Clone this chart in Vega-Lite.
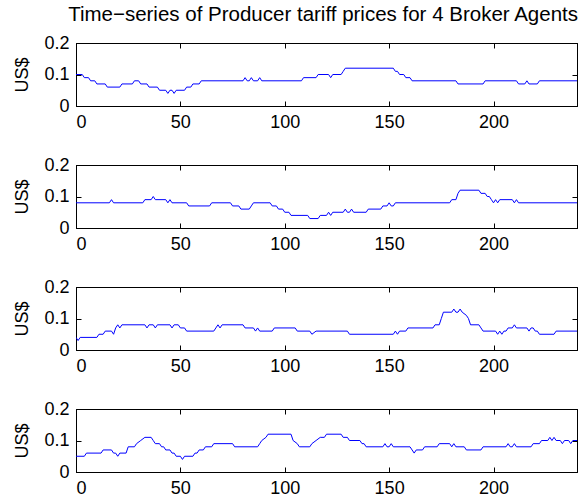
{
  "$schema": "https://vega.github.io/schema/vega-lite/v6.json",
  "padding": {"left": 13, "top": 5, "right": 1, "bottom": 0},
  "title": {"text": "Time−series of Producer tariff prices for 4 Broker Agents", "fontSize": 20.5, "fontWeight": "normal", "font": "Liberation Sans", "color": "black", "anchor": "end", "offset": 8},
  "config": {
    "font": "Liberation Sans",
    "view": {"stroke": "black", "strokeWidth": 1},
    "axis": {"grid": false, "domainColor": "black", "tickColor": "black", "labelColor": "black", "labelFontSize": 18, "titleFontSize": 18, "titleFontWeight": "normal", "titleColor": "black", "tickSize": -5, "labelPadding": 12, "titlePadding": 12, "labelFont": "Liberation Sans", "titleFont": "Liberation Sans"},
    "concat": {"spacing": 23}
  },
  "datasets": {
    "s1": [
      {"t":0,"v":0.10},{"t":3,"v":0.10},{"t":4,"v":0.09},{"t":6,"v":0.09},{"t":7,"v":0.08},{"t":9,"v":0.08},{"t":10,"v":0.07},{"t":14,"v":0.07},{"t":15,"v":0.06},{"t":21,"v":0.06},{"t":22,"v":0.07},{"t":27,"v":0.07},{"t":28,"v":0.08},{"t":30,"v":0.08},{"t":31,"v":0.07},{"t":34,"v":0.07},{"t":35,"v":0.06},{"t":39,"v":0.06},{"t":40,"v":0.05},{"t":43,"v":0.05},{"t":44,"v":0.04},{"t":45,"v":0.05},{"t":46,"v":0.05},{"t":47,"v":0.04},{"t":48,"v":0.05},{"t":52,"v":0.05},{"t":53,"v":0.06},{"t":55,"v":0.06},{"t":56,"v":0.07},{"t":59,"v":0.07},{"t":60,"v":0.08},{"t":80,"v":0.08},{"t":81,"v":0.09},{"t":82,"v":0.08},{"t":83,"v":0.08},{"t":84,"v":0.09},{"t":85,"v":0.08},{"t":87,"v":0.08},{"t":88,"v":0.09},{"t":89,"v":0.08},{"t":108,"v":0.08},{"t":109,"v":0.09},{"t":115,"v":0.09},{"t":116,"v":0.10},{"t":121,"v":0.10},{"t":122,"v":0.09},{"t":123,"v":0.10},{"t":127,"v":0.10},{"t":128,"v":0.11},{"t":129,"v":0.12},{"t":152,"v":0.12},{"t":153,"v":0.11},{"t":154,"v":0.11},{"t":155,"v":0.10},{"t":157,"v":0.10},{"t":158,"v":0.09},{"t":160,"v":0.09},{"t":161,"v":0.08},{"t":182,"v":0.08},{"t":183,"v":0.07},{"t":195,"v":0.07},{"t":196,"v":0.08},{"t":211,"v":0.08},{"t":212,"v":0.07},{"t":215,"v":0.07},{"t":216,"v":0.08},{"t":217,"v":0.07},{"t":221,"v":0.07},{"t":222,"v":0.08},{"t":240,"v":0.08}
    ],
    "s2": [
      {"t":0,"v":0.08},{"t":16,"v":0.08},{"t":17,"v":0.09},{"t":18,"v":0.08},{"t":32,"v":0.08},{"t":33,"v":0.09},{"t":36,"v":0.09},{"t":37,"v":0.10},{"t":38,"v":0.09},{"t":43,"v":0.09},{"t":44,"v":0.08},{"t":45,"v":0.09},{"t":46,"v":0.08},{"t":53,"v":0.08},{"t":54,"v":0.07},{"t":64,"v":0.07},{"t":65,"v":0.08},{"t":74,"v":0.08},{"t":75,"v":0.07},{"t":78,"v":0.07},{"t":79,"v":0.06},{"t":83,"v":0.06},{"t":84,"v":0.07},{"t":85,"v":0.08},{"t":93,"v":0.08},{"t":94,"v":0.07},{"t":96,"v":0.07},{"t":97,"v":0.06},{"t":99,"v":0.06},{"t":100,"v":0.05},{"t":102,"v":0.05},{"t":103,"v":0.04},{"t":111,"v":0.04},{"t":112,"v":0.03},{"t":116,"v":0.03},{"t":117,"v":0.04},{"t":120,"v":0.04},{"t":121,"v":0.05},{"t":122,"v":0.04},{"t":123,"v":0.05},{"t":128,"v":0.05},{"t":129,"v":0.06},{"t":130,"v":0.05},{"t":131,"v":0.05},{"t":132,"v":0.06},{"t":133,"v":0.05},{"t":139,"v":0.05},{"t":140,"v":0.06},{"t":146,"v":0.06},{"t":147,"v":0.07},{"t":149,"v":0.07},{"t":150,"v":0.08},{"t":151,"v":0.07},{"t":152,"v":0.07},{"t":153,"v":0.08},{"t":179,"v":0.08},{"t":180,"v":0.09},{"t":182,"v":0.09},{"t":183,"v":0.11},{"t":184,"v":0.12},{"t":193,"v":0.12},{"t":194,"v":0.11},{"t":196,"v":0.11},{"t":197,"v":0.10},{"t":198,"v":0.10},{"t":199,"v":0.09},{"t":200,"v":0.08},{"t":201,"v":0.09},{"t":202,"v":0.08},{"t":203,"v":0.09},{"t":209,"v":0.09},{"t":210,"v":0.08},{"t":211,"v":0.09},{"t":212,"v":0.08},{"t":240,"v":0.08}
    ],
    "s3": [
      {"t":0,"v":0.04},{"t":1,"v":0.03},{"t":2,"v":0.04},{"t":10,"v":0.04},{"t":11,"v":0.05},{"t":13,"v":0.05},{"t":14,"v":0.06},{"t":17,"v":0.06},{"t":18,"v":0.05},{"t":19,"v":0.07},{"t":20,"v":0.08},{"t":21,"v":0.07},{"t":22,"v":0.08},{"t":33,"v":0.08},{"t":34,"v":0.07},{"t":35,"v":0.08},{"t":37,"v":0.08},{"t":38,"v":0.07},{"t":39,"v":0.08},{"t":45,"v":0.08},{"t":46,"v":0.07},{"t":47,"v":0.08},{"t":49,"v":0.08},{"t":50,"v":0.07},{"t":52,"v":0.07},{"t":53,"v":0.06},{"t":66,"v":0.06},{"t":67,"v":0.07},{"t":68,"v":0.08},{"t":69,"v":0.07},{"t":70,"v":0.08},{"t":80,"v":0.08},{"t":81,"v":0.07},{"t":85,"v":0.07},{"t":86,"v":0.06},{"t":87,"v":0.07},{"t":88,"v":0.06},{"t":94,"v":0.06},{"t":95,"v":0.07},{"t":105,"v":0.07},{"t":106,"v":0.06},{"t":112,"v":0.06},{"t":113,"v":0.05},{"t":115,"v":0.06},{"t":130,"v":0.06},{"t":131,"v":0.05},{"t":152,"v":0.05},{"t":153,"v":0.06},{"t":154,"v":0.05},{"t":155,"v":0.06},{"t":158,"v":0.06},{"t":159,"v":0.07},{"t":171,"v":0.07},{"t":172,"v":0.08},{"t":174,"v":0.08},{"t":175,"v":0.10},{"t":176,"v":0.12},{"t":180,"v":0.12},{"t":181,"v":0.13},{"t":182,"v":0.12},{"t":183,"v":0.12},{"t":184,"v":0.13},{"t":185,"v":0.12},{"t":187,"v":0.11},{"t":188,"v":0.10},{"t":189,"v":0.08},{"t":193,"v":0.08},{"t":194,"v":0.07},{"t":195,"v":0.06},{"t":201,"v":0.06},{"t":202,"v":0.05},{"t":203,"v":0.06},{"t":204,"v":0.05},{"t":205,"v":0.06},{"t":206,"v":0.06},{"t":207,"v":0.07},{"t":209,"v":0.07},{"t":210,"v":0.08},{"t":211,"v":0.07},{"t":216,"v":0.07},{"t":217,"v":0.06},{"t":218,"v":0.07},{"t":219,"v":0.07},{"t":220,"v":0.06},{"t":221,"v":0.06},{"t":222,"v":0.05},{"t":229,"v":0.05},{"t":230,"v":0.06},{"t":240,"v":0.06}
    ],
    "s4": [
      {"t":0,"v":0.05},{"t":4,"v":0.05},{"t":5,"v":0.06},{"t":12,"v":0.06},{"t":13,"v":0.07},{"t":17,"v":0.07},{"t":18,"v":0.06},{"t":19,"v":0.06},{"t":20,"v":0.05},{"t":21,"v":0.06},{"t":24,"v":0.06},{"t":25,"v":0.08},{"t":28,"v":0.08},{"t":29,"v":0.09},{"t":31,"v":0.10},{"t":33,"v":0.11},{"t":36,"v":0.11},{"t":37,"v":0.10},{"t":38,"v":0.09},{"t":40,"v":0.09},{"t":41,"v":0.08},{"t":42,"v":0.08},{"t":43,"v":0.07},{"t":45,"v":0.07},{"t":46,"v":0.06},{"t":47,"v":0.06},{"t":48,"v":0.05},{"t":50,"v":0.05},{"t":51,"v":0.04},{"t":52,"v":0.05},{"t":56,"v":0.05},{"t":57,"v":0.06},{"t":58,"v":0.06},{"t":59,"v":0.07},{"t":61,"v":0.07},{"t":62,"v":0.08},{"t":65,"v":0.08},{"t":66,"v":0.09},{"t":75,"v":0.09},{"t":76,"v":0.08},{"t":87,"v":0.08},{"t":88,"v":0.09},{"t":89,"v":0.10},{"t":91,"v":0.11},{"t":92,"v":0.12},{"t":103,"v":0.12},{"t":104,"v":0.10},{"t":106,"v":0.09},{"t":107,"v":0.08},{"t":112,"v":0.08},{"t":113,"v":0.09},{"t":115,"v":0.10},{"t":117,"v":0.11},{"t":119,"v":0.11},{"t":120,"v":0.12},{"t":127,"v":0.12},{"t":128,"v":0.11},{"t":130,"v":0.11},{"t":131,"v":0.10},{"t":136,"v":0.10},{"t":137,"v":0.09},{"t":138,"v":0.09},{"t":139,"v":0.08},{"t":147,"v":0.08},{"t":148,"v":0.09},{"t":149,"v":0.08},{"t":150,"v":0.08},{"t":151,"v":0.09},{"t":152,"v":0.08},{"t":160,"v":0.08},{"t":161,"v":0.07},{"t":162,"v":0.06},{"t":163,"v":0.07},{"t":166,"v":0.07},{"t":167,"v":0.08},{"t":173,"v":0.08},{"t":174,"v":0.09},{"t":179,"v":0.09},{"t":180,"v":0.08},{"t":181,"v":0.09},{"t":182,"v":0.08},{"t":186,"v":0.08},{"t":187,"v":0.07},{"t":194,"v":0.07},{"t":195,"v":0.08},{"t":206,"v":0.08},{"t":207,"v":0.09},{"t":208,"v":0.08},{"t":209,"v":0.08},{"t":210,"v":0.09},{"t":211,"v":0.08},{"t":218,"v":0.08},{"t":219,"v":0.09},{"t":222,"v":0.09},{"t":223,"v":0.10},{"t":226,"v":0.10},{"t":227,"v":0.11},{"t":228,"v":0.10},{"t":229,"v":0.11},{"t":230,"v":0.10},{"t":232,"v":0.10},{"t":233,"v":0.09},{"t":234,"v":0.10},{"t":236,"v":0.10},{"t":237,"v":0.09},{"t":238,"v":0.10},{"t":240,"v":0.10}
    ]
  },
  "vconcat": [
    {"width": 501, "height": 63, "data": {"name": "s1"},
     "layer": [
      {"mark": {"type": "line", "color": "#0000ff", "strokeWidth": 1, "clip": true},
       "encoding": {
        "x": {"field": "t", "type": "quantitative", "scale": {"domain": [0, 240], "nice": false}, "axis": {"values": [0, 50, 100, 150, 200], "title": null}},
        "y": {"field": "v", "type": "quantitative", "scale": {"domain": [0, 0.2], "nice": false}, "axis": {"values": [0, 0.1, 0.2], "format": "~g", "title": "US$"}}}},
      {"mark": {"type": "line", "opacity": 0},
       "encoding": {
        "x": {"field": "t", "type": "quantitative", "scale": {"domain": [0, 240], "nice": false}, "axis": {"orient": "top", "values": [0, 50, 100, 150, 200], "labels": false, "title": null}},
        "y": {"field": "v", "type": "quantitative", "scale": {"domain": [0, 0.2], "nice": false}, "axis": {"orient": "right", "values": [0, 0.1, 0.2], "labels": false, "title": null}}}}
     ],
     "resolve": {"axis": {"x": "independent", "y": "independent"}}},
    {"width": 501, "height": 63, "data": {"name": "s2"},
     "layer": [
      {"mark": {"type": "line", "color": "#0000ff", "strokeWidth": 1, "clip": true},
       "encoding": {
        "x": {"field": "t", "type": "quantitative", "scale": {"domain": [0, 240], "nice": false}, "axis": {"values": [0, 50, 100, 150, 200], "title": null}},
        "y": {"field": "v", "type": "quantitative", "scale": {"domain": [0, 0.2], "nice": false}, "axis": {"values": [0, 0.1, 0.2], "format": "~g", "title": "US$"}}}},
      {"mark": {"type": "line", "opacity": 0},
       "encoding": {
        "x": {"field": "t", "type": "quantitative", "scale": {"domain": [0, 240], "nice": false}, "axis": {"orient": "top", "values": [0, 50, 100, 150, 200], "labels": false, "title": null}},
        "y": {"field": "v", "type": "quantitative", "scale": {"domain": [0, 0.2], "nice": false}, "axis": {"orient": "right", "values": [0, 0.1, 0.2], "labels": false, "title": null}}}}
     ],
     "resolve": {"axis": {"x": "independent", "y": "independent"}}},
    {"width": 501, "height": 63, "data": {"name": "s3"},
     "layer": [
      {"mark": {"type": "line", "color": "#0000ff", "strokeWidth": 1, "clip": true},
       "encoding": {
        "x": {"field": "t", "type": "quantitative", "scale": {"domain": [0, 240], "nice": false}, "axis": {"values": [0, 50, 100, 150, 200], "title": null}},
        "y": {"field": "v", "type": "quantitative", "scale": {"domain": [0, 0.2], "nice": false}, "axis": {"values": [0, 0.1, 0.2], "format": "~g", "title": "US$"}}}},
      {"mark": {"type": "line", "opacity": 0},
       "encoding": {
        "x": {"field": "t", "type": "quantitative", "scale": {"domain": [0, 240], "nice": false}, "axis": {"orient": "top", "values": [0, 50, 100, 150, 200], "labels": false, "title": null}},
        "y": {"field": "v", "type": "quantitative", "scale": {"domain": [0, 0.2], "nice": false}, "axis": {"orient": "right", "values": [0, 0.1, 0.2], "labels": false, "title": null}}}}
     ],
     "resolve": {"axis": {"x": "independent", "y": "independent"}}},
    {"width": 501, "height": 63, "data": {"name": "s4"},
     "layer": [
      {"mark": {"type": "line", "color": "#0000ff", "strokeWidth": 1, "clip": true},
       "encoding": {
        "x": {"field": "t", "type": "quantitative", "scale": {"domain": [0, 240], "nice": false}, "axis": {"values": [0, 50, 100, 150, 200], "title": null}},
        "y": {"field": "v", "type": "quantitative", "scale": {"domain": [0, 0.2], "nice": false}, "axis": {"values": [0, 0.1, 0.2], "format": "~g", "title": "US$"}}}},
      {"mark": {"type": "line", "opacity": 0},
       "encoding": {
        "x": {"field": "t", "type": "quantitative", "scale": {"domain": [0, 240], "nice": false}, "axis": {"orient": "top", "values": [0, 50, 100, 150, 200], "labels": false, "title": null}},
        "y": {"field": "v", "type": "quantitative", "scale": {"domain": [0, 0.2], "nice": false}, "axis": {"orient": "right", "values": [0, 0.1, 0.2], "labels": false, "title": null}}}}
     ],
     "resolve": {"axis": {"x": "independent", "y": "independent"}}}
  ]
}
